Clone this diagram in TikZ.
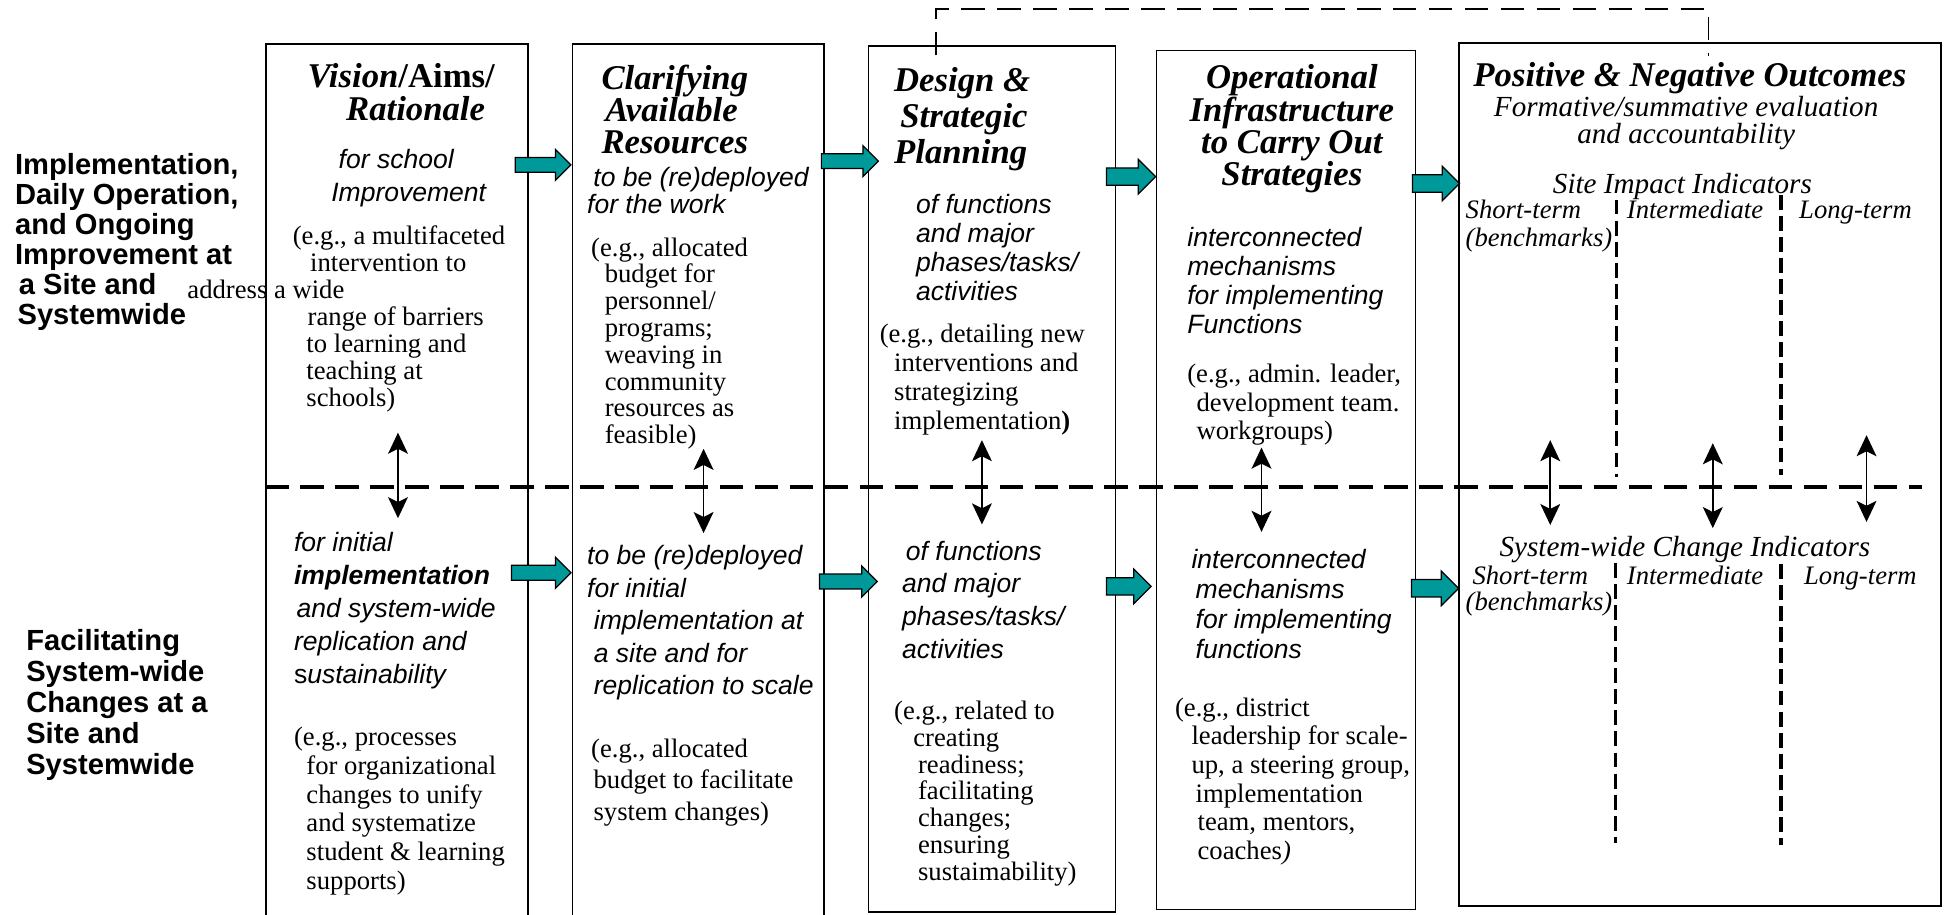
\documentclass[tikz,border=0pt]{standalone}
\usepackage{fontspec}
\setmainfont{Liberation Serif}
\setsansfont{Liberation Sans}
\usetikzlibrary{arrows.meta,shapes.arrows}
\definecolor{tealfill}{RGB}{0,153,153}
\tikzset{
  colbox/.style={draw, line width=1.3pt, anchor=north west, inner sep=0},
  sidetxt/.style={font=\sffamily\bfseries\fontsize{23.5}{#1}\selectfont, align=left, anchor=north west, inner sep=0},
  sidetxt/.default=24.2,
  headtxt/.style={font=\rmfamily\bfseries\itshape\fontsize{28}{#1}\selectfont, align=left, anchor=north west, inner sep=0},
  headtxt/.default=26.5,
  subtxt/.style={font=\sffamily\itshape\fontsize{21.4}{#1}\selectfont, align=left, anchor=north west, inner sep=0},
  subtxt/.default=23.3,
  egtxt/.style={font=\rmfamily\fontsize{21.5}{#1}\selectfont, align=left, anchor=north west, inner sep=0},
  egtxt/.default=22,
  indtxt/.style={font=\rmfamily\itshape\fontsize{23.5}{#1}\selectfont, align=center, inner sep=0},
  indtxt/.default=22,
  termtxt/.style={font=\rmfamily\itshape\fontsize{21.5}{#1}\selectfont, align=left, inner sep=0},
  termtxt/.default=21.5,
  tealarrow/.style={single arrow, draw=black, fill=tealfill, line width=1pt, inner xsep=0, inner ysep=5.5pt,
    anchor=tail, single arrow head extend=6.5pt, minimum height=#1},
  bigteal/.style={tealarrow=#1, inner ysep=6.5pt, single arrow head extend=7pt},
  dblarrow/.style={{Stealth[length=17pt,width=16pt,inset=4pt]}-{Stealth[length=17pt,width=16pt,inset=4pt]}, line width=1.35pt},
  rowdash/.style={line width=3pt, dash pattern=on 19pt off 9.2pt},
  linkdash/.style={line width=1.5pt, dash pattern=on 19pt off 10pt},
  coldash/.style={line width=2.6pt, dash pattern=on 12pt off 5pt},
}
\begin{document}
\begin{tikzpicture}[x=1pt,y=-1pt]
  \useasboundingbox (0,0) rectangle (1568,738);

  % Column boxes
  \node[colbox, minimum width=211, minimum height=705] (vision) at (214,35) {};
  \node[colbox, minimum width=203, minimum height=705] (clarify) at (461,35) {};
  \node[colbox, minimum width=199, minimum height=698.5] (design) at (700,36.5) {};
  \node[colbox, minimum width=209, minimum height=693] (infra) at (932,40) {};
  \node[colbox, minimum width=389, minimum height=696] (outcomes) at (1176,34) {};

  % Dashed lines
  \coordinate (rowL) at (214,393);
  \coordinate (rowR) at (1550,393);
  \draw[rowdash] (rowL) -- (rowR);
  \coordinate (lnkA) at (755,44.5);
  \coordinate (lnkTop) at (1378,7);
  \coordinate (lnkB) at (1378,45.5);
  \draw[linkdash] (lnkA) |- (lnkTop) -- (lnkB);
  \draw[coldash] (1304,161) -- (1304,385);
  \draw[coldash] (1436.5,157) -- (1436.5,383);
  \draw[coldash] (1303,454) -- (1303,680);
  \draw[coldash] (1436.5,455) -- (1436.5,681.5);

  % Teal arrows
  \node[tealarrow=45] (ta1) at (415,133) {};
  \node[tealarrow=48] (tb1) at (412,462) {};
  \node[tealarrow=46] (ta2) at (662,130) {};
  \node[tealarrow=46.5] (tb2) at (660.5,469) {};
  \node[bigteal=39.6] (ta3) at (892,142.5) {};
  \node[bigteal=36] (tb3) at (892,473) {};
  \node[bigteal=38] (ta4) at (1138.7,148) {};
  \node[bigteal=38] (tb4) at (1138,474.5) {};

  % Up-down arrows
  \coordinate (up1) at (321,349);    \coordinate (dn1) at (321,418);
  \coordinate (up2) at (567.5,362);  \coordinate (dn2) at (567.5,430);
  \coordinate (up3) at (792,355);    \coordinate (dn3) at (792,423);
  \coordinate (up4) at (1017.5,361); \coordinate (dn4) at (1017.5,429);
  \coordinate (up5) at (1250.4,355); \coordinate (dn5) at (1250.4,423.5);
  \coordinate (up6) at (1381.5,357.5); \coordinate (dn6) at (1381.5,426);
  \coordinate (up7) at (1505.5,351); \coordinate (dn7) at (1505.5,421);
  \draw[dblarrow] (up1) -- (dn1);
  \draw[dblarrow] (up2) -- (dn2);
  \draw[dblarrow] (up3) -- (dn3);
  \draw[dblarrow] (up4) -- (dn4);
  \draw[dblarrow] (up5) -- (dn5);
  \draw[dblarrow] (up6) -- (dn6);
  \draw[dblarrow] (up7) -- (dn7);

  % Row labels
  \node[sidetxt] (rowtop) at (12,123.5) {Implementation,\\Daily Operation,\\and Ongoing\\Improvement at\\\hspace*{3pt}a Site and\\\hspace*{2pt}Systemwide};
  \node[sidetxt=25] (rowbot) at (21,507.5) {Facilitating\\System-wide\\Changes at a\\Site and\\Systemwide};

  % Headings
  \node[headtxt] (vistitle) at (248,50.7) {Vision{\upshape/Aims/}\\\hspace*{31pt}Rationale};
  \node[headtxt=26] (restitle) at (485,52) {Clarifying\\\hspace*{3pt}Available\\Resources};
  \node[headtxt=28.75] (plantitle) at (721,54.5) {Design \&\\\hspace*{5pt}Strategic\\Planning};
  \node[headtxt=26, align=center, anchor=north] (infratitle) at (1042,52) {Operational\\Infrastructure\\to Carry Out\\Strategies};
  \node[headtxt, anchor=base] (outtitle) at (1363,70) {Positive \& Negative Outcomes};

  % Upper row texts
  \node[subtxt=26.5] (visfor) at (267,120.5) {\hspace*{6pt}for school\\Improvement};
  \node[egtxt=21.8] (viseg) at (236,182) {(e.g., a multifaceted\\\hspace*{14pt}intervention to\\\hspace*{-85pt}address a wide\\\hspace*{12pt}range of barriers\\\hspace*{11pt}to learning and\\\hspace*{11pt}teaching at\\\hspace*{11pt}schools)};
  \node[subtxt=21.5] (resfor) at (473.4,135) {\hspace*{5pt}to be (re)deployed\\for the work};
  \node[egtxt=21.6] (reseg) at (476.6,191.5) {(e.g., allocated\\\hspace*{11pt}budget for\\\hspace*{11pt}personnel/\\\hspace*{11pt}programs;\\\hspace*{11pt}weaving in\\\hspace*{11pt}community\\\hspace*{11pt}resources as\\\hspace*{11pt}feasible)};
  \node[subtxt] (planof) at (738.7,156.5) {of functions\\and major\\phases/tasks/\\activities};
  \node[egtxt=23.3] (planeg) at (709.4,261.5) {(e.g., detailing new\\\hspace*{11.6pt}interventions and\\\hspace*{11.6pt}strategizing\\\hspace*{11.6pt}implementation\textbf{)}};
  \node[subtxt] (infrafor) at (957.5,183.5) {interconnected\\mechanisms\\for implementing\\Functions};
  \node[egtxt=23] (infraeg) at (957.5,293.5) {(e.g., admin. leader,\\\hspace*{7.5pt}development team.\\\hspace*{7.5pt}workgroups)};
  \node[indtxt=21.5, anchor=north] (outeval) at (1360,77.5) {Formative/summative evaluation\\and accountability};
  \node[indtxt, anchor=base] (siteind) at (1357,156.2) {Site Impact Indicators};
  \node[termtxt=22, anchor=north west] (siteshort) at (1182,161.5) {Short-term\\(benchmarks)};
  \node[termtxt, anchor=base west] (sitemid) at (1312,176.5) {Intermediate};
  \node[termtxt, anchor=base west] (sitelong) at (1451,176.5) {Long-term};

  % Lower row texts
  \node[subtxt=26.5] (visinit) at (237,429.5) {for initial\\\textbf{implementation}\\\hspace*{2pt}and system-wide\\replication and\\\textup{s}ustainability};
  \node[egtxt=23.1] (viseg2) at (237,586.5) {(e.g., processes\\\hspace*{10pt}for organizational\\\hspace*{10pt}changes to unify\\\hspace*{10pt}and systematize\\\hspace*{10pt}student \& learning\\\hspace*{10pt}supports)};
  \node[subtxt=26.2] (resinit) at (473.4,440) {to be (re)deployed\\for initial\\\hspace*{5.4pt}implementation at\\\hspace*{5.4pt}a site and for\\\hspace*{5.4pt}replication to scale};
  \node[egtxt=25.2] (reseg2) at (476.6,596) {(e.g., allocated\\\hspace*{2pt}budget to facilitate\\\hspace*{2pt}system changes)};
  \node[subtxt=26.5] (planof2) at (727.5,436) {\hspace*{3pt}of functions\\and major\\phases/tasks/\\activities};
  \node[egtxt=21.7] (planeg2) at (721,565) {(e.g., related to\\\hspace*{15.5pt}creating\\\hspace*{19.3pt}readiness;\\\hspace*{19.3pt}facilitating\\\hspace*{19.3pt}changes;\\\hspace*{19.3pt}ensuring\\\hspace*{19.3pt}sustaimability)};
  \node[subtxt=24.3] (infrafor2) at (960.9,442.5) {interconnected\\\hspace*{3.3pt}mechanisms\\\hspace*{3.3pt}for implementing\\\hspace*{3.3pt}functions};
  \node[egtxt=23.1] (infraeg2) at (947.6,562.5) {(e.g., district\\\hspace*{13.3pt}leadership for scale-\\\hspace*{13.3pt}up, a steering group,\\\hspace*{16.6pt}implementation\\\hspace*{18.2pt}team, mentors,\\\hspace*{18.2pt}coaches\textit{)}};
  \node[indtxt, anchor=base] (sysind) at (1359,449.2) {System-wide Change Indicators};
  \node[termtxt=21, anchor=north west] (sysshort) at (1182,456.5) {\hspace*{5.5pt}Short-term\\(benchmarks)};
  \node[termtxt, anchor=base west] (sysmid) at (1312,471.5) {Intermediate};
  \node[termtxt, anchor=base west] (syslong) at (1455,471.5) {Long-term};
\end{tikzpicture}
\end{document}
